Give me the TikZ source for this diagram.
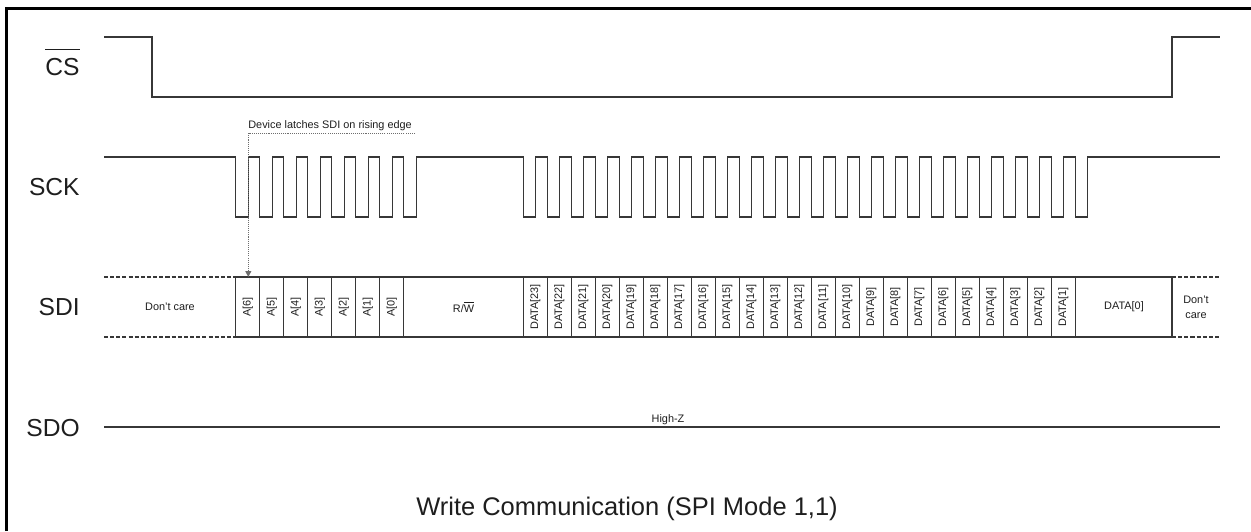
\documentclass[tikz,border=0pt]{standalone}
\usepackage{fontspec}
\setmainfont{Liberation Sans}
\usetikzlibrary{arrows.meta}
\definecolor{wavegray}{RGB}{55,55,55}
\definecolor{dotgray}{RGB}{110,110,110}
\definecolor{inkblack}{RGB}{30,30,30}
\newcommand{\smallfs}{\fontsize{6.2}{8.5}\selectfont}
\newcommand{\bigfs}{\fontsize{14}{16}\selectfont}

\begin{document}
\begin{tikzpicture}[x=0.02cm,y=-0.02cm,
  wave/.style={wavegray,line width=0.7pt},
  careline/.style={wave,dash pattern=on 2.3pt off 1.2pt},
  siglabel/.style={inkblack,inner sep=0pt,anchor=base east,font=\bigfs},
  bitlabel/.style={inkblack,inner sep=0pt,rotate=90,font=\smallfs},
  celltext/.style={inkblack,inner sep=0pt,font=\smallfs,align=center}]
  \useasboundingbox (0,0) rectangle (1251,531);
  % frame
  \draw[black,line width=1.7pt] (6.5,531) -- (6.5,8.7) -- (1251,8.7);

  % signal names
  \node[siglabel] (cs) at (80,75) {CS};
  \coordinate (csbar) at (0,49.5);
  \draw[inkblack,line width=0.6pt] (cs.west |- csbar) -- (cs.east |- csbar);
  \node[siglabel] (sck) at (80,195) {SCK};
  \node[siglabel] (sdi) at (80,315) {SDI};
  \node[siglabel] (sdo) at (80,436) {SDO};

  % chip select
  \draw[wave] (104,37) -| (152,97) -| (1172,37) -- (1220,37);

  % clock, address burst then data burst
  \draw[wave] (104,157) -- (235.7,157)
    \foreach \k in {1,...,8}{ -- ++(0,60) -- ++(12.5,0) -- ++(0,-60) -- ++(11.5,0) }
    -- (523.3,157)
    \foreach \k in {1,...,24}{ -- ++(0,60) -- ++(12.5,0) -- ++(0,-60) -- ++(11.5,0) }
    -- (1220,157);

  % SDI bus
  \draw[wave] (235.7,277) -- (1172,277) (235.7,337) -- (1172,337);
  \draw[careline] (104,277) -- (235.7,277) (104,337) -- (235.7,337);
  \draw[careline] (1172,277) -- (1220,277) (1172,337) -- (1220,337);
  \foreach \k in {0,...,7}
    \draw[wave] ({235.7+24*\k},277) -- ++(0,60);
  \foreach \k in {0,...,23}
    \draw[wave] ({523.3+24*\k},277) -- ++(0,60);
  \draw[wave] (1172,277) -- (1172,337);

  \node[celltext] (dc1) at (170,307) {Don’t care};
  \foreach \i in {0,...,6}
    \node[bitlabel] (a\i) at ({247.7+24*(6-\i)},307) {A[\i]};
  \node[celltext] (rw) at (463.5,307) {R/$\overline{\mbox{W}}$};
  \foreach \i in {1,...,23}
    \node[bitlabel] (d\i) at ({535.3+24*(23-\i)},307) {DATA[\i]};
  \node[celltext] (d0) at (1124,307) {DATA[0]};
  \node[celltext] (dc2) at (1196,307) {Don't\\care};

  % latch note
  \coordinate (latch) at (248.3,133.3);
  \coordinate (latchend) at (415,133.3);
  \coordinate (a6top) at (248.3,277);
  \node[celltext,anchor=base west] (note) at (248,128.5) {Device latches SDI on rising edge};
  \draw[dotgray,line width=0.6pt,dash pattern=on 0.6pt off 0.6pt,
    -{Triangle[width=3.4pt,length=3.4pt]}] (latchend) -- (latch) -- (a6top);

  % SDO
  \draw[wave] (104,427) -- (1220,427);
  \node[celltext,anchor=base] (hiz) at (668,422) {High-Z};

  % caption
  \node[inkblack,inner sep=0pt,anchor=base,font=\fontsize{14.5}{17}\selectfont] (title)
    at (627,515) {Write Communication (SPI Mode 1,1)};
\end{tikzpicture}
\end{document}
